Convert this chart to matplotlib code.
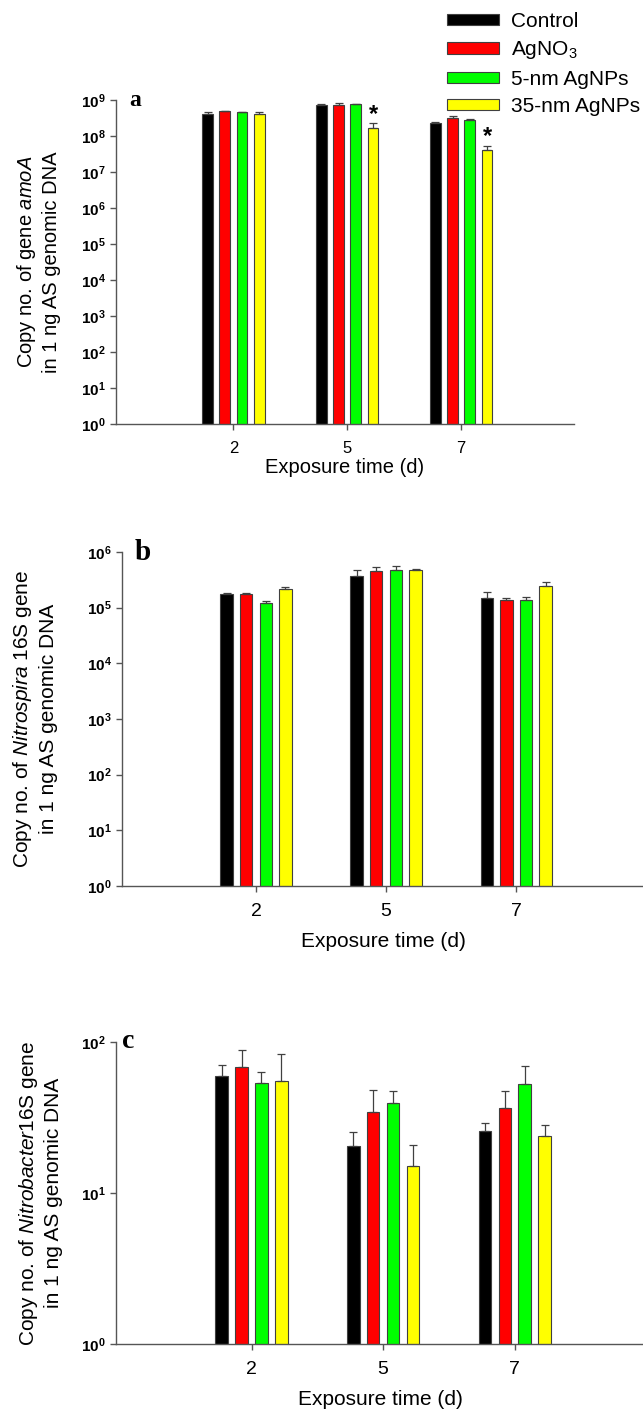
import numpy as np
import matplotlib
matplotlib.use('Agg')
import matplotlib.pyplot as plt
from matplotlib import font_manager
from matplotlib.patches import Patch
from matplotlib.ticker import FixedLocator, NullLocator

installed = {f.name for f in font_manager.fontManager.ttflist}
tick_font = 'Liberation Sans Narrow' if 'Liberation Sans Narrow' in installed else 'Liberation Sans'

plt.rcParams['font.family'] = ['Liberation Sans', 'DejaVu Sans']
plt.rcParams['mathtext.fontset'] = 'custom'
plt.rcParams['mathtext.rm'] = 'Liberation Sans'
plt.rcParams['mathtext.it'] = 'Liberation Sans:italic'
plt.rcParams['mathtext.bf'] = tick_font + ':bold'

days = ['2', '5', '7']
groups = ['Control', 'AgNO$_3$', '5-nm AgNPs', '35-nm AgNPs']
colors = ['#000000', '#ff0000', '#00ff00', '#ffff00']

# panel a - amoA
a_control = [4.0e8, 7.3e8, 2.25e8]
a_agno3 = [4.9e8, 7.4e8, 3.1e8]
a_np5 = [4.6e8, 7.6e8, 2.8e8]
a_np35 = [4.2e8, 1.65e8, 4.1e7]
a_control_err = [0.6e8, 0.2e8, 0.2e8]
a_agno3_err = [0.1e8, 0.9e8, 0.45e8]
a_np5_err = [0.1e8, 0.1e8, 0.1e8]
a_np35_err = [0.4e8, 0.6e8, 1.3e7]

# panel b - Nitrospira 16S
b_control = [1.77e5, 3.74e5, 1.5e5]
b_agno3 = [1.77e5, 4.6e5, 1.38e5]
b_np5 = [1.22e5, 4.73e5, 1.38e5]
b_np35 = [2.18e5, 4.8e5, 2.47e5]
b_control_err = [0.08e5, 1.06e5, 0.45e5]
b_agno3_err = [0.03e5, 0.76e5, 0.14e5]
b_np5_err = [0.12e5, 0.97e5, 0.15e5]
b_np35_err = [0.16e5, 0.05e5, 0.41e5]

# panel c - Nitrobacter 16S
c_control = [59.6, 20.5, 25.9]
c_agno3 = [68.7, 34.3, 36.5]
c_np5 = [53.3, 39.7, 53.1]
c_np35 = [55.5, 15.2, 23.9]
c_control_err = [10.9, 4.8, 3.3]
c_agno3_err = [20.3, 14.1, 11.2]
c_np5_err = [10.4, 8.0, 16.7]
c_np35_err = [28.2, 5.5, 4.1]

W, H = 643, 1410
fig = plt.figure(figsize=(W / 100, H / 100), dpi=100)


def px_axes(left, top, right, bottom):
    return fig.add_axes([left / W, 1 - bottom / H, (right - left) / W, (bottom - top) / H])


def draw_panel(ax, vals, errs, top_exp, ylabel, letter, label_x, fs_x, fs_lab, xpad, fs_letter, letter_x):
    x = np.arange(len(days))
    pitch = 0.151
    width = 0.095
    ax.set_yscale('log')
    for i in range(4):
        pos = x + (i - 1.5) * pitch
        v = np.array(vals[i])
        e = np.array(errs[i])
        ax.bar(pos, v, width, color=colors[i], edgecolor='#404040', linewidth=0.8,
               yerr=[np.zeros_like(e), e], ecolor='#404040',
               error_kw=dict(elinewidth=0.9, capsize=3, capthick=0.9))
    ax.set_ylim(1, 10 ** top_exp)
    ax.set_xlim(-1.03, 2.99)
    ax.set_xticks(x)
    ax.set_xticklabels(days, fontsize=fs_x)
    ax.yaxis.set_major_locator(FixedLocator([10 ** k for k in range(top_exp + 1)]))
    ax.yaxis.set_minor_locator(NullLocator())
    tick_fs = 12.5 if tick_font == 'Liberation Sans Narrow' else 11
    ax.set_yticklabels([r'$\mathbf{10^{%d}}$' % k for k in range(top_exp + 1)], fontsize=tick_fs)
    for s in ['top', 'right']:
        ax.spines[s].set_visible(False)
    for s in ['left', 'bottom']:
        ax.spines[s].set_color('#555555')
        ax.spines[s].set_linewidth(1.0)
    ax.tick_params(axis='both', colors='#555555', labelcolor='black', length=4, width=1)
    ax.tick_params(axis='x', pad=8)
    ax.set_xlabel('Exposure time (d)', fontsize=fs_lab, labelpad=xpad)
    ax.set_ylabel(ylabel, fontsize=fs_lab, va='center', linespacing=1.3)
    ax.yaxis.set_label_coords(label_x, 0.5)
    ax.text(letter_x, 1.0, letter, transform=ax.transAxes, fontsize=fs_letter, fontweight='bold',
            family='Liberation Serif', va='center', ha='left')


ax_a = px_axes(116, 100, 574, 424)
a_vals = [a_control, a_agno3, a_np5, a_np35]
a_errs = [a_control_err, a_agno3_err, a_np5_err, a_np35_err]
draw_panel(ax_a, a_vals, a_errs, 9,
           'Copy no. of gene $\\it{amoA}$\nin 1 ng AS genomic DNA',
           'a', -0.17, 12, 14.5, 2, 17, 0.03)

# asterisks on the 35-nm bars at day 5 and 7
for k in [1, 2]:
    ax_a.annotate('*', xy=(k + 1.5 * 0.151, a_np35[k] + a_np35_err[k]),
                  xytext=(0, -2), textcoords='offset points',
                  ha='center', va='bottom', fontsize=17, fontweight='bold')

ax_b = px_axes(122, 552, 645, 886)
b_vals = [b_control, b_agno3, b_np5, b_np35]
b_errs = [b_control_err, b_agno3_err, b_np5_err, b_np35_err]
draw_panel(ax_b, b_vals, b_errs, 6,
           'Copy no. of $\\it{Nitrospira}$ 16S gene\nin 1 ng AS genomic DNA',
           'b', -0.167, 14, 15, 9, 21, 0.025)

ax_c = px_axes(116, 1042, 645, 1344)
c_vals = [c_control, c_agno3, c_np5, c_np35]
c_errs = [c_control_err, c_agno3_err, c_np5_err, c_np35_err]
draw_panel(ax_c, c_vals, c_errs, 2,
           'Copy no. of $\\it{Nitrobacter}$16S gene\nin 1 ng AS genomic DNA',
           'c', -0.144, 14, 15, 9, 20, 0.012)

handles = [Patch(facecolor=colors[i], edgecolor='#404040', linewidth=0.8) for i in range(4)]
fig.legend(handles, groups, loc='upper left', bbox_to_anchor=(447 / W, 1 - 12 / H),
           frameon=False, fontsize=15, handlelength=2.5, handleheight=0.45,
           labelspacing=0.4, handletextpad=0.55, borderpad=0, borderaxespad=0)

fig.savefig('out.png', dpi=100)
